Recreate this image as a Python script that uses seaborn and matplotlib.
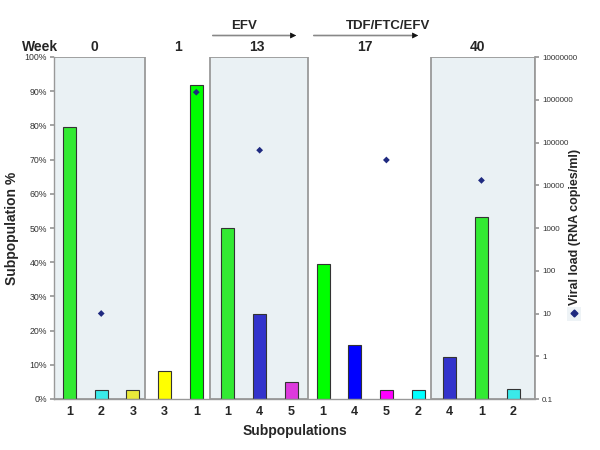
import matplotlib
matplotlib.use("Agg")
import matplotlib.pyplot as plt
from matplotlib.patches import Rectangle, FancyArrowPatch
from matplotlib.lines import Line2D
import seaborn as sns
import numpy as np
import pandas as pd

sns.set_theme(style="white")
plt.rcParams['font.family'] = ['Liberation Sans', 'DejaVu Sans']

# ---- data ----
weeks = ["0", "1", "13", "17", "40"]
subpop_labels = ["1", "2", "3", "3", "1", "1", "4", "5", "1", "4", "5", "2", "4", "1", "2"]
subpop_percent = [79.6, 2.6, 2.6, 8.2, 91.8, 50.0, 25.0, 5.0, 39.4, 15.8, 2.5, 2.5, 12.4, 53.1, 3.0]
bar_colors = ["#33EA33", "#3AEAEA", "#E8E83A", "#FFFF00", "#00FF00",
              "#33EA33", "#3333CC", "#DD3ADD", "#00FF00", "#0000FF",
              "#FF00FF", "#00FFFF", "#3333CC", "#33EA33", "#3AEAEA"]
viral_pos = [1, 4, 6, 10, 13]
viral_load = [10, 1.5e6, 66000, 39000, 13000]
treatments = ["EFV", "TDF/FTC/EFV"]

pos = np.arange(len(subpop_labels))
df = pd.DataFrame({"pos": pos, "pct": subpop_percent, "key": [str(p) for p in pos]})
vdf = pd.DataFrame({"pos": viral_pos, "vl": viral_load})

fig = plt.figure(figsize=(6, 4.5), dpi=100)
ax = fig.add_axes([54/600, 1-399/450, (535-54)/600, (399-57)/450])

# shaded week boxes
box_kw = dict(facecolor="#EAF1F4", edgecolor="#9A9A9A", linewidth=1.3, zorder=0)
for x0, x1 in [(-0.49, 2.38), (4.43, 7.52), (11.4, 14.69)]:
    ax.add_patch(Rectangle((x0, 0), x1 - x0, 100, **box_kw))

sns.barplot(data=df, x="pos", y="pct", hue="key", palette=dict(zip(df["key"], bar_colors)),
            native_scale=True, dodge=False, width=0.41, legend=False, ax=ax, saturation=1,
            edgecolor="#333333", linewidth=0.8, zorder=2)

ax.set_xlim(-0.49, 14.69)
ax.set_ylim(0, 100)
ax.set_yticks(np.arange(0, 101, 10))
ax.set_yticklabels([f"{v}%" for v in range(0, 101, 10)], fontsize=6.3, color="#333333")
ax.set_xticks(pos)
ax.set_xticklabels(subpop_labels, fontsize=9, fontweight="bold")
ax.set_xticks(pos[:-1] + 0.5, minor=True)
ax.tick_params(axis="x", which="major", length=0, pad=5)
ax.tick_params(axis="x", which="minor", length=3, color="#999999", direction="out")
ax.tick_params(axis="y", length=3, color="#999999", direction="out", pad=2)
ax.set_xlabel("Subpopulations", fontsize=10, fontweight="bold", labelpad=4)
ax.set_ylabel("Subpopulation %", fontsize=10, fontweight="bold", labelpad=4)
for s in ["top", "right"]:
    ax.spines[s].set_visible(False)
for s in ["left", "bottom"]:
    ax.spines[s].set_color("#999999")
    ax.spines[s].set_linewidth(1.0)
ax.set_facecolor("none")

ax2 = ax.twinx()
ax2.set_yscale("log")
sns.scatterplot(data=vdf, x="pos", y="vl", marker="D", color="#1F2A80", s=12,
                edgecolor="none", ax=ax2, zorder=5)
ax2.set_ylim(0.1, 1e7)
ax2.set_yticks([0.1, 1, 10, 100, 1000, 1e4, 1e5, 1e6, 1e7])
ax2.set_yticklabels(["0.1", "1", "10", "100", "1000", "10000", "100000", "1000000", "10000000"],
                    fontsize=5.8, color="#333333")
ax2.yaxis.set_minor_locator(matplotlib.ticker.NullLocator())
ax2.tick_params(axis="y", length=3, color="#999999", direction="out", pad=2)
ax2.set_ylabel("")
for s in ["top", "left", "bottom"]:
    ax2.spines[s].set_visible(False)
ax2.spines["right"].set_color("#999999")
ax2.set_xlim(-0.49, 14.69)
ax2.set_xlabel("")

fig.text(575/600, 1-227/450, "Viral load (RNA copies/ml)", rotation=90, fontsize=9,
         fontweight="bold", ha="center", va="center")

leg = ax2.legend(handles=[Line2D([], [], marker="D", color="#1F2A80", linestyle="none", markersize=3.5)],
                 labels=[""], loc="center", bbox_to_anchor=(574/600, 1-314/450),
                 bbox_transform=fig.transFigure, frameon=True, handlelength=0.9,
                 handletextpad=0, borderpad=0.4, borderaxespad=0, fancybox=False, fontsize=6)
leg.get_frame().set_facecolor("#EAF1F4")
leg.get_frame().set_edgecolor("none")

# week headers
fig.text(40/600, 1-47/450, "Week", fontsize=10, fontweight="bold", ha="center", va="center")
for wx, w in zip([94, 178, 257, 365, 478], weeks):
    fig.text(wx/600, 1-47/450, w, fontsize=10, fontweight="bold", ha="center", va="center")

# treatment arrows
for (x0, x1, tx), t in zip([(210, 299, 244), (311, 421, 388)], treatments):
    y = 1 - 35.5/450
    fig.add_artist(FancyArrowPatch((x0/600, y), ((x1-4)/600, y), transform=fig.transFigure,
                   arrowstyle="-", color="#888888", linewidth=1.2))
    fig.add_artist(FancyArrowPatch(((x1-8)/600, y), (x1/600, y), transform=fig.transFigure,
                   arrowstyle="-|>", mutation_scale=9, color="#111111", linewidth=0.5))
    fig.text(tx/600, 1-26/450, t, fontsize=9.5, fontweight="bold", ha="center", va="center")

fig.savefig("out.png", dpi=100)
